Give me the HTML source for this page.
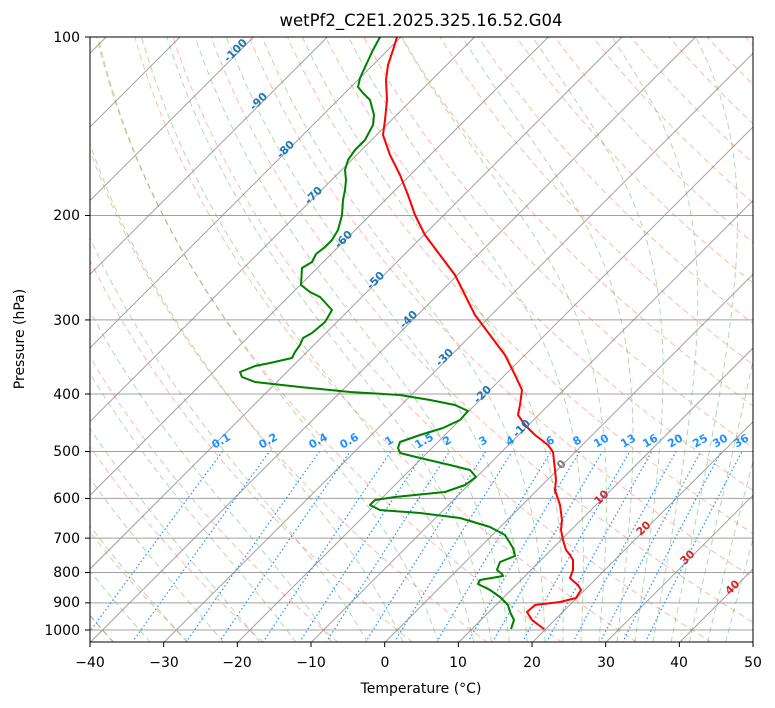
<!DOCTYPE html>
<html><head><meta charset="utf-8"><style>
body{margin:0;background:#fff}
svg{display:block;font-family:"DejaVu Sans","Liberation Sans",sans-serif}
</style></head><body>
<svg id="s" width="775" height="708" viewBox="0 0 775 708" xmlns="http://www.w3.org/2000/svg">
<defs><clipPath id="c"><rect x="90" y="37" width="663" height="605"/></clipPath></defs>
<rect width="775" height="708" fill="#fff"/>
<g id="bg" clip-path="url(#c)"></g>
<g id="data" clip-path="url(#c)" fill="none" stroke-width="2" stroke-linejoin="round">
<polyline stroke="red" points="397,37 393,50 388,65 386,80 387,100 385,120 383,135 390,155 400,175 408,195 415,215 425,235 440,255 455,275 465,295 475,315 490,335 505,355 515,375 522,390 520,405 518,415 525,425 535,435 548,445 553,452 555,470 556,480 555,490 560,505 562,520 561,530 563,540 566,550 570,555 573,560 573,570 570,578 572,580 578,585 581,590 576,598 560,602 535,605 527,612 532,620 544,629"/>
<polyline stroke="green" points="380,37 373,50 366,65 360,78 358,87 363,93 370,100 374,115 373,125 365,140 355,150 348,160 345,170 346,180 345,190 343,200 342,215 338,230 332,240 325,247 316,254 312,262 302,268 301,285 310,292 320,297 332,310 325,322 312,333 303,338 300,345 295,352 292,358 270,363 255,366 240,372 242,377 255,382 300,387 350,392 400,395 430,400 455,405 468,411 460,420 443,428 420,435 400,442 398,448 400,453 420,458 450,465 470,470 476,477 465,485 445,492 395,497 375,500 370,505 380,510 420,513 460,518 490,527 505,535 513,548 515,556 500,562 497,570 502,574 503,576 480,580 478,584 490,590 500,597 508,605 510,612 514,620 511,629"/>
</g>
<g font-size="11" font-weight="bold">
<g fill="#1f77b4">
<text transform="translate(238,53) rotate(-45)" text-anchor="middle">-100</text>
<text transform="translate(261,104) rotate(-45)" text-anchor="middle">-90</text>
<text transform="translate(288,152) rotate(-45)" text-anchor="middle">-80</text>
<text transform="translate(316,198) rotate(-45)" text-anchor="middle">-70</text>
<text transform="translate(346,242) rotate(-45)" text-anchor="middle">-60</text>
<text transform="translate(378,283) rotate(-45)" text-anchor="middle">-50</text>
<text transform="translate(411,322) rotate(-45)" text-anchor="middle">-40</text>
<text transform="translate(447,360) rotate(-45)" text-anchor="middle">-30</text>
<text transform="translate(485,397) rotate(-45)" text-anchor="middle">-20</text>
<text transform="translate(524,431) rotate(-45)" text-anchor="middle">-10</text>
</g>
<text transform="translate(564,467) rotate(-45)" text-anchor="middle" fill="#777">0</text>
<g fill="#d62728">
<text transform="translate(604,500) rotate(-45)" text-anchor="middle">10</text>
<text transform="translate(646,531) rotate(-45)" text-anchor="middle">20</text>
<text transform="translate(690,560) rotate(-45)" text-anchor="middle">30</text>
<text transform="translate(735,590) rotate(-45)" text-anchor="middle">40</text>
</g>
</g>
<rect x="90" y="37" width="663" height="605" fill="none" stroke="#000" stroke-width="1"/>
<g font-size="14" fill="#000">
<text x="421" y="26" text-anchor="middle" font-size="16.5">wetPf2_C2E1.2025.325.16.52.G04</text>
<text x="421" y="693" text-anchor="middle">Temperature (°C)</text>
<text transform="translate(24,339) rotate(-90)" text-anchor="middle">Pressure (hPa)</text>
</g>
<g id="ticks" font-size="14" fill="#000" stroke="none">
<text x="90" y="667" text-anchor="middle">−40</text>
<text x="164" y="667" text-anchor="middle">−30</text>
<text x="237" y="667" text-anchor="middle">−20</text>
<text x="311" y="667" text-anchor="middle">−10</text>
<text x="385" y="667" text-anchor="middle">0</text>
<text x="458" y="667" text-anchor="middle">10</text>
<text x="532" y="667" text-anchor="middle">20</text>
<text x="606" y="667" text-anchor="middle">30</text>
<text x="679" y="667" text-anchor="middle">40</text>
<text x="753" y="667" text-anchor="middle">50</text>
<text x="80" y="42" text-anchor="end">100</text>
<text x="80" y="220" text-anchor="end">200</text>
<text x="80" y="325" text-anchor="end">300</text>
<text x="80" y="399" text-anchor="end">400</text>
<text x="80" y="456" text-anchor="end">500</text>
<text x="80" y="503" text-anchor="end">600</text>
<text x="80" y="543" text-anchor="end">700</text>
<text x="80" y="577" text-anchor="end">800</text>
<text x="80" y="607" text-anchor="end">900</text>
<text x="80" y="635" text-anchor="end">1000</text>
</g>
<g id="tk" stroke="#000"></g>
<g font-size="11" font-weight="bold" fill="#1e90ff">
<text transform="translate(223,444) rotate(-30)" text-anchor="middle">0.1</text>
<text transform="translate(270,444) rotate(-30)" text-anchor="middle">0.2</text>
<text transform="translate(320,444) rotate(-30)" text-anchor="middle">0.4</text>
<text transform="translate(351,444) rotate(-30)" text-anchor="middle">0.6</text>
<text transform="translate(391,444) rotate(-30)" text-anchor="middle">1</text>
<text transform="translate(426,444) rotate(-30)" text-anchor="middle">1.5</text>
<text transform="translate(449,444) rotate(-30)" text-anchor="middle">2</text>
<text transform="translate(485,444) rotate(-30)" text-anchor="middle">3</text>
<text transform="translate(512,444) rotate(-30)" text-anchor="middle">4</text>
<text transform="translate(552,444) rotate(-30)" text-anchor="middle">6</text>
<text transform="translate(579,444) rotate(-30)" text-anchor="middle">8</text>
<text transform="translate(603,444) rotate(-30)" text-anchor="middle">10</text>
<text transform="translate(630,444) rotate(-30)" text-anchor="middle">13</text>
<text transform="translate(652,444) rotate(-30)" text-anchor="middle">16</text>
<text transform="translate(677,444) rotate(-30)" text-anchor="middle">20</text>
<text transform="translate(702,444) rotate(-30)" text-anchor="middle">25</text>
<text transform="translate(722,444) rotate(-30)" text-anchor="middle">30</text>
<text transform="translate(743,444) rotate(-30)" text-anchor="middle">36</text>
</g>
<script>
(function(){
var NS="http://www.w3.org/2000/svg";
function Y(p){return 37+593*Math.log10(p/100);}
function X(T,p){return 90+(T+40)*7.367+(642.6-Y(p));}
var bg=document.getElementById('bg');
function line(pts,st,w,da,op){var e=document.createElementNS(NS,'polyline');
e.setAttribute('points',pts.map(function(a){return a[0].toFixed(1)+','+a[1].toFixed(1)}).join(' '));
e.setAttribute('fill','none');e.setAttribute('stroke',st);e.setAttribute('stroke-width',w);
if(da)e.setAttribute('stroke-dasharray',da);if(op)e.setAttribute('stroke-opacity',op);bg.appendChild(e);}
var ps=[];for(var p=1050;p>=99;p-=5)ps.push(p);
for(var t0=-40;t0<=200;t0+=10){var th=t0+273.15;line(ps.map(function(p){var T=th*Math.pow(p/1000,0.2857)-273.15;return[X(T,p),Y(p)]}),'#ff6347',1,'6,4','0.45');}
function es(T){return 6.112*Math.exp(17.67*T/(T+243.5));}
function dTdp(T,p){var Tk=T+273.15,rs=0.622*es(T)/(p-es(T)),Lv=2.501e6,Rd=287,cp=1005;
return (Rd*Tk+Lv*rs)/(p*(cp+Lv*Lv*rs*0.622/(Rd*Tk*Tk)));}
var m0=[];for(var a=-40;a<=10;a+=5)m0.push(a);for(a=12.5;a<=45;a+=2.5)m0.push(a);
m0.forEach(function(t){var pts=[],T,p;
var Td=t,pd=1000;while(pd<1050){var d=2;Td+=dTdp(Td,pd)*d;pd+=d;}
T=Td;p=1050;pts.push([X(T,p),Y(p)]);
while(p>100){var dp=-2;T+=dTdp(T,p)*dp;p+=dp;if(p%10===0)pts.push([X(T,p),Y(p)]);}
line(pts,'green',1,'6,4','0.3');});
for(var T=-160;T<=50;T+=10){line([[X(T,1050),Y(1050)],[X(T,100),Y(100)]],'#888',1,null,'0.8');}
[100,200,300,400,500,600,700,800,900,1000].forEach(function(p){line([[90,Y(p)],[753,Y(p)]],'#888',1,null,'0.8');});
[0.1,0.2,0.4,0.6,1,1.5,2,3,4,6,8,10,13,16,20,25,30,36].forEach(function(w){var pts=[];
for(var p=1050;p>=500;p-=10){var e=w*p/(622+w),l=Math.log(e/6.112),Td=243.5*l/(17.67-l);pts.push([X(Td,p),Y(p)]);}
line(pts,'#1e90ff',1.2,'1.5,2.5',null);});
var tk=document.getElementById('tk');
function tl(x1,y1,x2,y2){var e=document.createElementNS(NS,'line');e.setAttribute('x1',x1);e.setAttribute('y1',y1);e.setAttribute('x2',x2);e.setAttribute('y2',y2);e.setAttribute('stroke','#000');tk.appendChild(e);}
for(var i=0;i<10;i++){var x=90+i*73.67;tl(x,642,x,647);}
[100,200,300,400,500,600,700,800,900,1000].forEach(function(p){tl(85,Y(p),90,Y(p));});
})();
</script>
</svg>
</body></html>
